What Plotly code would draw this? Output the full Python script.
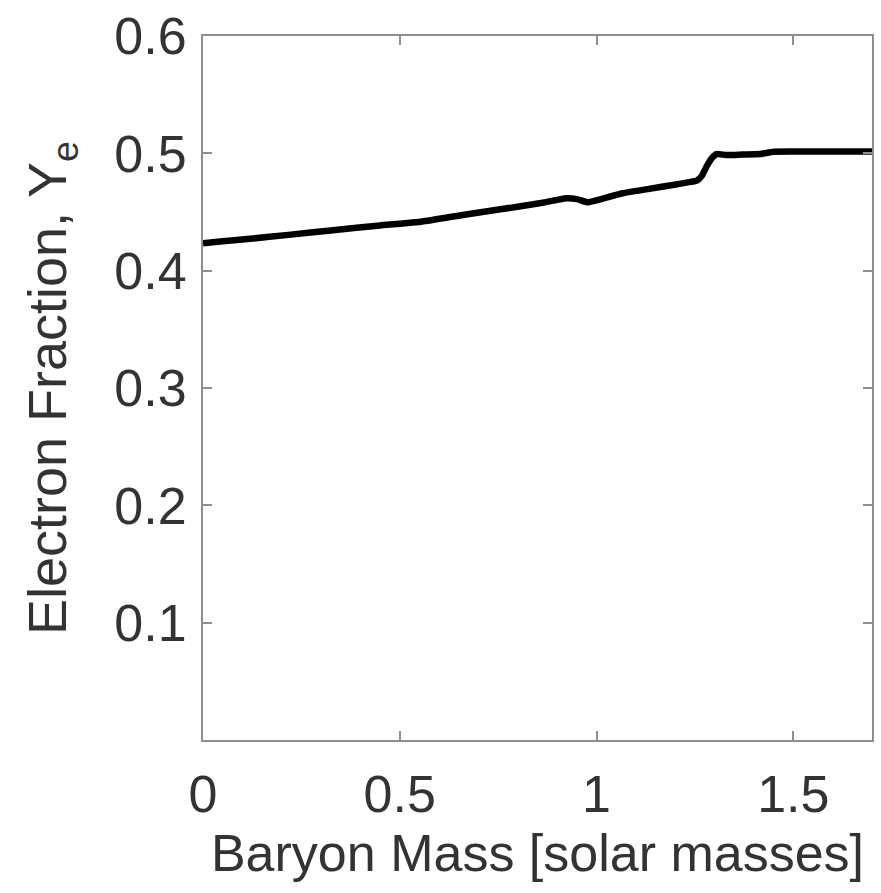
import plotly.graph_objects as go

# Electron fraction profile against enclosed baryon mass
mass = [0.0, 0.05, 0.12, 0.217, 0.33, 0.45, 0.557, 0.66, 0.76, 0.855, 0.923, 0.95,
        0.977, 1.0, 1.066, 1.13, 1.194, 1.235, 1.255, 1.268, 1.28, 1.293, 1.305,
        1.33, 1.37, 1.416, 1.45, 1.55, 1.7]
ye = [0.4234, 0.4250, 0.4272, 0.4305, 0.4345, 0.4385, 0.4419, 0.4475, 0.4525, 0.4574,
      0.4617, 0.4610, 0.4583, 0.4600, 0.4660, 0.4695, 0.4730, 0.4755, 0.4768, 0.4810,
      0.4890, 0.4960, 0.4994, 0.4986, 0.4990, 0.4994, 0.5014, 0.5015, 0.5015]

x_ticks = [0, 0.5, 1, 1.5]
x_labels = ["0", "0.5", "1", "1.5"]
y_ticks = [0.1, 0.2, 0.3, 0.4, 0.5, 0.6]
y_labels = ["0.1", "0.2", "0.3", "0.4", "0.5", "0.6"]

fig = go.Figure()
fig.add_trace(go.Scatter(x=mass, y=ye, mode="lines",
                         line=dict(color="black", width=6.5, shape="spline", smoothing=0.4),
                         showlegend=False))

font_family = "Liberation Sans, Arial, sans-serif"
text_color = "#333333"
font_size = 52
axis_common = dict(showline=True, linecolor="#8f8f8f", linewidth=2, mirror="ticks",
                   ticks="inside", ticklen=9, tickcolor="#8f8f8f", tickwidth=1.5,
                   showgrid=False, zeroline=False,
                   tickfont=dict(family=font_family, size=font_size, color=text_color))

fig.update_layout(
    width=881, height=893,
    margin=dict(l=203, r=7, t=33, b=153),
    paper_bgcolor="white", plot_bgcolor="white",
    xaxis=dict(range=[0, 1.7], tickvals=x_ticks, ticktext=x_labels,
               ticklabelstandoff=8,
               title=dict(text="Baryon Mass [solar masses]", standoff=12,
                          font=dict(family=font_family, size=font_size, color=text_color)),
               **axis_common),
    yaxis=dict(range=[0, 0.6], tickvals=y_ticks, ticktext=y_labels,
               ticklabelstandoff=4,
               title=dict(text="Electron Fraction, Y<sub>e</sub>", standoff=30,
                          font=dict(family=font_family, size=54, color=text_color)),
               **axis_common),
)

fig.write_html("out.html")
